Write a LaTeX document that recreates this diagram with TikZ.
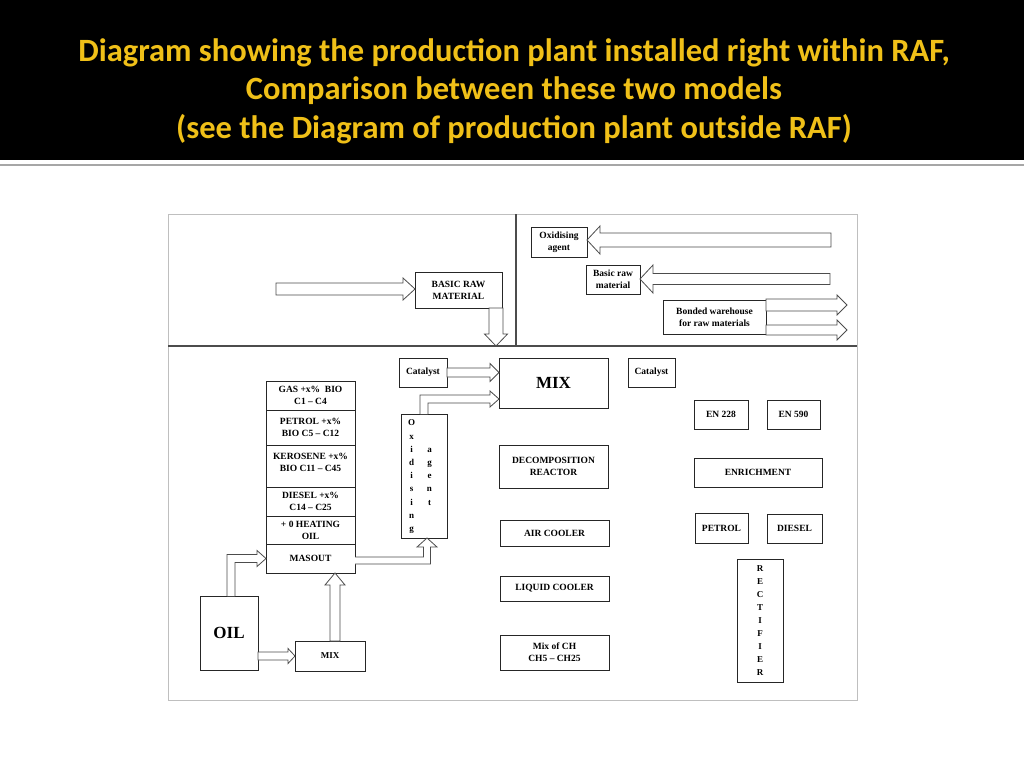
\documentclass[tikz,border=0pt]{standalone}
\usepackage{fontspec}
\setmainfont{Liberation Serif}
\newfontfamily\titlefont{Carlito}
\usetikzlibrary{calc,positioning}
\definecolor{titleyellow}{RGB}{240,192,24}
\tikzstyle{box}=[draw=black!85, line width=0.9pt, rectangle, align=center, inner sep=1pt, outer sep=0pt, font=\fontsize{9.5}{12}\selectfont\bfseries]
\tikzstyle{hollow}=[draw=black!70, fill=white, line width=0.8pt, line join=miter]
% straight hollow arrow: tail, tip, half shaft, half head, head length
\newcommand{\blockarrow}[5]{%
  \coordinate (ba-base) at ($(#2)!#5pt!(#1)$);
  \filldraw[hollow] ($(#1)!#3pt!90:(#2)$) -- ($(ba-base)!#3pt!90:(#2)$) -- ($(ba-base)!#4pt!90:(#2)$)
    -- (#2) -- ($(ba-base)!#4pt!-90:(#2)$) -- ($(ba-base)!#3pt!-90:(#2)$) -- ($(#1)!#3pt!-90:(#2)$) -- cycle;
}
% hollow arrow going up from #1, then right to #2
\newcommand{\bentarrow}[5]{%
  \coordinate (bk) at (#1 |- #2);
  \filldraw[hollow] ($(#1)+(-#3,0)$) -- ($(bk)+(-#3,-#3)$) -- ($(#2)+(-#5,-#3)$) -- ($(#2)+(-#5,-#4)$)
    -- (#2) -- ($(#2)+(-#5,#4)$) -- ($(#2)+(-#5,#3)$) -- ($(bk)+(#3,#3)$) -- ($(#1)+(#3,0)$);
}

\begin{document}
\begin{tikzpicture}[x=1pt, y=-1pt]
\useasboundingbox (0,0) rectangle (1024,768);

% title band
\fill[black] (0,0) rectangle (1024,160);
\draw[black!35, line width=2pt] (0,165) -- (1024,165);
\node[font=\titlefont\bfseries\fontsize{32.5}{38.5}\selectfont, text=titleyellow, align=center] (title) at (514,91)
  {Diagram showing the production plant installed right within RAF,\\
   Comparison between these two models\\
   (see the Diagram of production plant outside RAF)};

% frame
\coordinate (fr-nw) at (168,214);
\coordinate (fr-se) at (857,700);
\draw[black!25, line width=1pt] (fr-nw) rectangle (fr-se);
\draw[black!70, line width=1.2pt] (168,346) -- (857,346);
\draw[black!70, line width=1.2pt] (516,214) -- (516,346);

% upper part
\node[box, minimum width=87, minimum height=36] (basic) at (458.5,290) {BASIC RAW\\MATERIAL};
\node[box, minimum width=56, minimum height=30] (oxtop) at (559,242) {Oxidising\\agent};
\node[box, minimum width=54, minimum height=29] (braw) at (613,279.5) {Basic raw\\material};
\node[box, minimum width=103, minimum height=34] (bonded) at (714.5,317) {Bonded warehouse\\for raw materials};

% lower part
\node[box, minimum width=48, minimum height=29] (cat1) at (423,372.5) {Catalyst};
\node[box, minimum width=109, minimum height=50, font=\fontsize{17}{20}\selectfont\bfseries] (mix) at (553.5,383) {MIX};
\node[box, minimum width=47, minimum height=29] (cat2) at (651.5,372.5) {Catalyst};
\node[box, minimum width=46, minimum height=124, font=\fontsize{9}{13.2}\selectfont\bfseries] (oxid) at (424,476)
  {\begin{tabular}{@{}c@{\hspace{12pt}}c@{}}O&\\x&\\i&a\\d&g\\i&e\\s&n\\i&t\\n&\\g&\end{tabular}\hspace*{8pt}};

\node[box, minimum width=89, minimum height=29] (gas) at (310.5,395.5) {GAS +x\%\ \ BIO\\C1 \textendash{} C4};
\node[box, minimum width=89, minimum height=35, below=0pt of gas] (petrol) {PETROL +x\%\\BIO C5 \textendash{} C12};
\node[box, minimum width=89, minimum height=42, below=0pt of petrol] (kero) {KEROSENE +x\%\\BIO C11 \textendash{} C45\\[-5pt]\mbox{}};
\node[box, minimum width=89, minimum height=29, below=0pt of kero] (diesel) {DIESEL +x\%\\C14 \textendash{} C25};
\node[box, minimum width=89, minimum height=28, below=0pt of diesel] (heat) {+ 0 HEATING\\OIL};
\node[box, minimum width=89, minimum height=29, below=0pt of heat] (masout) {MASOUT};

\node[box, minimum width=58, minimum height=74, font=\fontsize{17}{20}\selectfont\bfseries] (oil) at (229,633) {OIL};
\node[box, minimum width=70, minimum height=30, font=\fontsize{9}{11}\selectfont\bfseries] (mix2) at (330,656) {MIX};

\node[box, minimum width=109, minimum height=43] (decomp) at (553.5,466.5) {DECOMPOSITION\\REACTOR};
\node[box, minimum width=109, minimum height=26] (aircool) at (554.5,533) {AIR COOLER};
\node[box, minimum width=109, minimum height=25] (liqcool) at (554.5,588.5) {LIQUID COOLER};
\node[box, minimum width=109, minimum height=35] (mixch) at (554.5,652.5) {Mix of CH\\CH5 \textendash{} CH25};

\node[box, minimum width=54, minimum height=29] (en228) at (721,414.5) {EN 228};
\node[box, minimum width=53, minimum height=29] (en590) at (793.5,414.5) {EN 590};
\node[box, minimum width=128, minimum height=29] (enrich) at (758,472.5) {ENRICHMENT};
\node[box, minimum width=53, minimum height=30] (petrol2) at (721.5,528) {PETROL};
\node[box, minimum width=55, minimum height=29] (diesel2) at (794.5,528.5) {DIESEL};
\node[box, minimum width=46, minimum height=123, font=\fontsize{9}{13.1}\selectfont\bfseries] (rect) at (760,620.5)
  {R\\E\\C\\T\\I\\F\\I\\E\\R};

% straight arrows
\coordinate (feed) at (276,289);
\coordinate (feed-tip) at (feed -| basic.west);
\blockarrow{feed}{feed-tip}{6}{11}{12}
\coordinate (basic-out) at ($(basic.south east)+(-6,0)$);
\coordinate (basic-tip) at ($(basic.south east)+(-6,38)$);
\blockarrow{basic-out}{basic-tip}{7}{11.5}{12}
\coordinate (ox-feed) at (831,240);
\coordinate (ox-tip) at (ox-feed -| oxtop.east);
\blockarrow{ox-feed}{ox-tip}{7}{14}{13}
\coordinate (raw-feed) at (830,279);
\coordinate (raw-tip) at (raw-feed -| braw.east);
\blockarrow{raw-feed}{raw-tip}{5.5}{14}{13}
\coordinate (bond-a) at ($(bonded.east)+(0,-12)$);
\coordinate (bond-a-tip) at ($(bonded.east)+(81,-12)$);
\blockarrow{bond-a}{bond-a-tip}{6}{10}{10}
\coordinate (bond-b) at ($(bonded.east)+(0,13)$);
\coordinate (bond-b-tip) at ($(bonded.east)+(81,13)$);
\blockarrow{bond-b}{bond-b-tip}{5}{10}{10}
\coordinate (cat-tip) at (cat1.east -| mix.west);
\blockarrow{cat1.east}{cat-tip}{4.5}{9}{9}
\coordinate (oil-out) at (oil.east |- mix2.west);
\blockarrow{oil-out}{mix2.west}{4}{7.5}{7}
\coordinate (mix2-out) at ($(mix2.north)+(5,0)$);
\coordinate (mix2-tip) at (mix2-out |- masout.south);
\blockarrow{mix2-out}{mix2-tip}{5}{10}{12}

% bent arrows
\coordinate (oil-up) at ($(oil.north)+(2,0)$);
\bentarrow{oil-up}{masout.west}{4}{8}{9}
\coordinate (mix-in) at ($(mix.west)+(0,16)$);
\bentarrow{oxid.north}{mix-in}{4}{8}{9}
\coordinate (mas-out) at ($(masout.east)+(0,2)$);
\coordinate (ox-in) at ($(oxid.south)+(3,0)$);
\coordinate (ox-bend) at (ox-in |- mas-out);
\filldraw[hollow] ($(mas-out)+(0,-3.5)$) -- ($(ox-bend)+(-3.5,-3.5)$) -- ($(ox-in)+(-3.5,9)$) -- ($(ox-in)+(-10,9)$)
  -- (ox-in) -- ($(ox-in)+(10,9)$) -- ($(ox-in)+(3.5,9)$) -- ($(ox-bend)+(3.5,3.5)$) -- ($(mas-out)+(0,3.5)$);

\end{tikzpicture}
\end{document}
